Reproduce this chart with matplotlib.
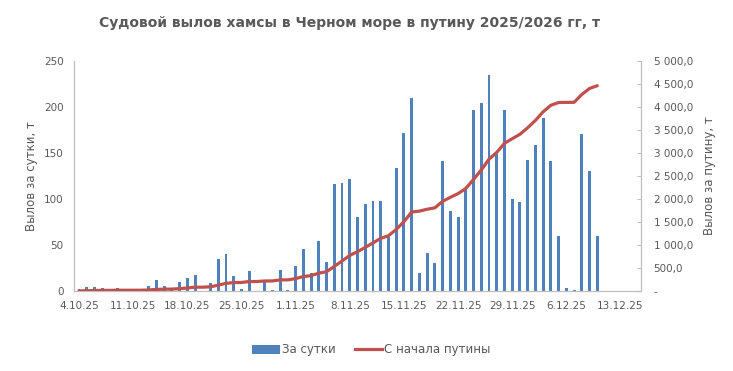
import numpy as np
import matplotlib
matplotlib.use("Agg")
import matplotlib.pyplot as plt
from matplotlib.patches import Patch
from matplotlib.lines import Line2D

# ---- data ----
start_date = "4.10.25"
daily = [2.2, 4.3, 4.3, 3.3, 0, 2.9, 0, 0, 0, 5.4,
         12.0, 5.4, 1.8, 9.8, 14.1, 17.4, 0, 8.7, 34.8, 40.2,
         16.3, 2.2, 21.7, 0, 10.9, 1.0, 22.6, 1.0, 27.0, 45.5,
         19.2, 54.2, 31.2, 116.0, 117.0, 121.7, 80.4, 94.2, 97.5, 97.5,
         58.7, 133.3, 171.7, 209.4, 19.6, 41.3, 30.4, 141.5, 87.0, 80.4,
         111.6, 196.7, 204.7, 234.8, 148.9, 196.7, 100.0, 96.7, 142.4, 158.7,
         188.0, 141.3, 59.8, 3.3, 1.4, 170.7, 130.4, 59.8]
cumulative = [2.2, 6.5, 10.8, 14.1, 14.1, 17.0, 17.0, 17.0, 17.0, 22.4,
              34.4, 39.8, 41.6, 51.4, 65.5, 82.9, 82.9, 91.6, 126.4, 166.6,
              182.9, 185.1, 206.8, 206.8, 217.7, 218.7, 241.3, 242.3, 269.3, 314.8,
              334.0, 388.2, 419.4, 535.4, 652.4, 774.1, 854.5, 948.7, 1046.2, 1143.7,
              1202.4, 1335.7, 1507.4, 1716.8, 1736.4, 1777.7, 1808.1, 1949.6, 2036.6, 2117.0,
              2228.6, 2425.3, 2630.0, 2864.8, 3013.7, 3210.4, 3310.4, 3407.1, 3549.5, 3708.2,
              3896.2, 4037.5, 4097.3, 4100.6, 4102.0, 4272.7, 4403.1, 4462.9]
x_tick_labels = ["4.10.25", "11.10.25", "18.10.25", "25.10.25", "1.11.25", "8.11.25",
                 "15.11.25", "22.11.25", "29.11.25", "6.12.25", "13.12.25"]
left_ticks = [0, 50, 100, 150, 200, 250]
right_ticks = [0, 500, 1000, 1500, 2000, 2500, 3000, 3500, 4000, 4500, 5000]
right_tick_labels = ["-", "500,0", "1 000,0", "1 500,0", "2 000,0", "2 500,0",
                     "3 000,0", "3 500,0", "4 000,0", "4 500,0", "5 000,0"]

title = "Судовой вылов хамсы в Черном море в путину 2025/2026 гг, т"
left_label = "Вылов за сутки, т"
right_label = "Вылов за путину, т"
legend_labels = ["За сутки", "С начала путины"]

BLUE = "#4F81BD"
RED = "#C0504D"
GRAY = "#595959"
AXIS = "#BFBFBF"

plt.rcParams['font.family'] = ['DejaVu Sans']

W, H = 733, 371
fig = plt.figure(figsize=(W / 100, H / 100), dpi=100)
ax = fig.add_axes([74 / W, 1 - 291 / H, (641 - 74) / W, (291 - 61) / H])
ax2 = ax.twinx()

x = np.arange(len(daily))
ax.bar(x, daily, width=0.38, color=BLUE, zorder=2)
ax2.plot(x, cumulative, color=RED, lw=2.3, solid_joinstyle='round',
         solid_capstyle='round', zorder=3)

ax.set_xlim(-0.65, 72.65)
ax.set_ylim(0, 250)
ax2.set_ylim(0, 5000)

ax.set_xticks(np.arange(0, 7 * len(x_tick_labels), 7))
ax.set_xticklabels(x_tick_labels)
ax.set_yticks(left_ticks)
ax.set_yticklabels([str(v) for v in left_ticks])
ax2.set_yticks(right_ticks)
ax2.set_yticklabels(right_tick_labels)

ax.tick_params(axis='x', length=0, pad=7, labelsize=7.5, labelcolor=GRAY)
ax.tick_params(axis='y', length=0, pad=7.5, labelsize=7.5, labelcolor=GRAY)
ax2.tick_params(axis='y', direction='in', length=3, width=0.8, color=AXIS,
                pad=9, labelsize=7.5, labelcolor=GRAY)

for a in (ax, ax2):
    a.spines['top'].set_visible(False)
    for s in ('left', 'right', 'bottom'):
        a.spines[s].set_color(AXIS)
        a.spines[s].set_linewidth(0.9)
ax.spines['right'].set_visible(False)
ax2.spines['left'].set_visible(False)
ax2.spines['bottom'].set_visible(False)
ax2.patch.set_visible(False)

fig.text(350 / W, 1 - 22.5 / H, title, ha='center', va='center',
         fontsize=10, fontweight='bold', color=GRAY)
fig.text(31 / W, 1 - 176 / H, left_label, ha='center', va='center',
         rotation=90, fontsize=8.5, color=GRAY)
fig.text(709 / W, 1 - 176 / H, right_label, ha='center', va='center',
         rotation=90, fontsize=8.5, color=GRAY)

handles = [Patch(facecolor=BLUE, edgecolor='none'),
           Line2D([0], [0], color=RED, lw=2.3)]
fig.legend(handles, legend_labels, loc='center', bbox_to_anchor=(371.5 / W, 1 - 350 / H),
           ncol=2, frameon=False, fontsize=8.5, labelcolor=GRAY,
           handlelength=2.3, handleheight=0.7, handletextpad=0.2, columnspacing=1.6)

fig.savefig("out.png", dpi=100)
